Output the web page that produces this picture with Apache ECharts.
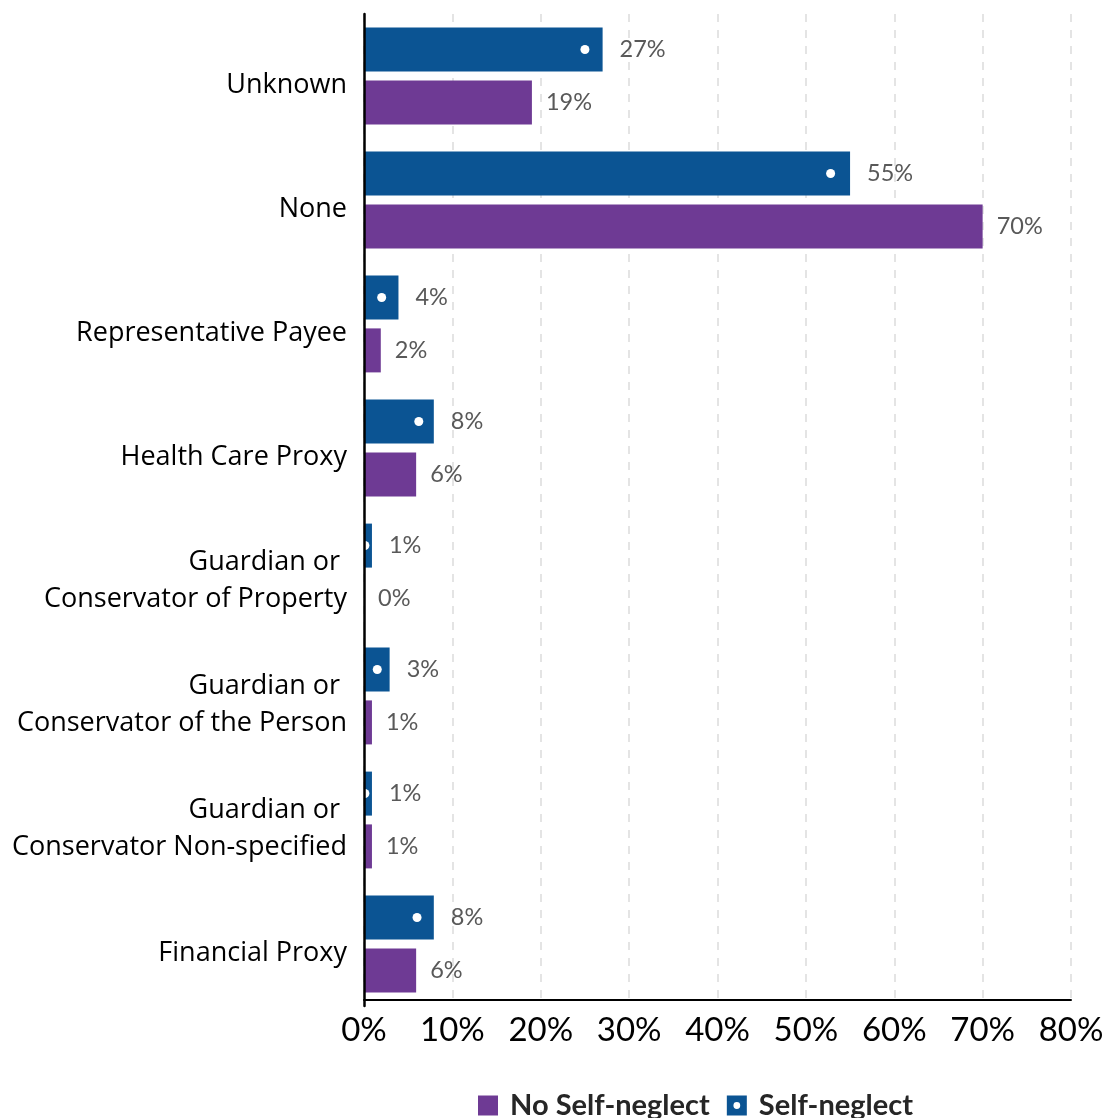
<!DOCTYPE html>
<html>
<head>
<meta charset="utf-8">
<script src="https://cdn.jsdelivr.net/npm/echarts@6/dist/echarts.min.js"></script>
<style>
html,body{margin:0;padding:0;background:#fff;}
#chart{width:1115px;height:1118px;}
</style>
</head>
<body>
<div id="chart"></div>
<script>
// ---- data ----
var categories = [
  'Unknown',
  'None',
  'Representative Payee',
  'Health Care Proxy',
  'Guardian or \nConservator of Property',
  'Guardian or \nConservator of the Person',
  'Guardian or \nConservator Non-specified',
  'Financial Proxy'
];
var selfNeglect   = [27, 55, 3.9, 7.9, 0.9, 2.9, 0.9, 7.9];
var noSelfNeglect = [19, 70, 1.9, 5.9, 0, 0.9, 0.9, 5.9];
var dotValues     = [25, 52.8, 2.0, 6.2, 0.1, 1.5, 0.1, 6.0];
var xTicks = { min: 0, max: 80, interval: 10 };

var BLUE = '#0b5493';
var PURPLE = '#6e3a94';
var FONT = 'Lato';
var CAT_FONT = 'Open Sans';

var chart = echarts.init(document.getElementById('chart'), null, {renderer: 'canvas'});

var pctLabel = function (p) { return Math.round(p.value) + '%'; };
var catLabel = function (v) {
  return '{s| }\n' + v.split('\n').map(function (s) { return '{a|' + s + '}'; }).join('\n');
};

var option = {
  backgroundColor: '#fff',
  animation: false,
  textStyle: { fontFamily: FONT },
  grid: { left: 364, right: 44, top: 14, bottom: 112, containLabel: false },
  legend: {
    top: 1086,
    left: 473,
    itemWidth: 20,
    itemHeight: 20,
    itemGap: 17,
    formatter: function (name) { return ' ' + name; },
    textStyle: { fontFamily: FONT, fontSize: 29, fontWeight: 'bold', color: '#262626' },
    data: [
      { name: 'No Self-neglect', icon: 'rect' },
      { name: 'Self-neglect', icon: 'path://M0,0H10V10H0Z M5,3.3A1.7,1.7 0 1,0 5,6.7A1.7,1.7 0 1,0 5,3.3Z' }
    ]
  },
  xAxis: {
    type: 'value',
    min: xTicks.min,
    max: xTicks.max,
    interval: xTicks.interval,
    offset: -6,
    axisLine: { show: true, lineStyle: { color: '#000', width: 2 } },
    axisTick: { show: false },
    axisLabel: { formatter: '{value}%', fontSize: 33, color: '#000', margin: 14, fontFamily: FONT },
    splitLine: { show: true, lineStyle: { color: '#dcdcdc', type: [8, 8], width: 1.5 } }
  },
  yAxis: {
    type: 'category',
    inverse: true,
    data: categories,
    z: 5,
    axisLine: { show: true, lineStyle: { color: '#000', width: 2.5 } },
    axisTick: { show: false },
    axisLabel: {
      color: '#000', margin: 17, fontFamily: CAT_FONT,
      formatter: catLabel,
      rich: {
        s: { fontSize: 2, lineHeight: 18 },
        a: { fontSize: 27, lineHeight: 37, color: '#000', fontFamily: CAT_FONT, align: 'right' }
      }
    }
  },
  series: [
    {
      name: 'Self-neglect',
      type: 'bar',
      data: selfNeglect,
      barWidth: 44,
      barGap: '20%',
      itemStyle: { color: BLUE },
      label: { show: true, position: 'right', distance: 17, color: '#595959', fontSize: 23.5, formatter: pctLabel, fontFamily: FONT }
    },
    {
      name: 'No Self-neglect',
      type: 'bar',
      data: noSelfNeglect,
      barWidth: 44,
      barGap: '20%',
      itemStyle: { color: PURPLE },
      label: { show: true, position: 'right', distance: 14, color: '#595959', fontSize: 23.5, formatter: pctLabel, fontFamily: FONT }
    },
    {
      name: 'dots',
      type: 'scatter',
      data: dotValues.map(function (v, i) { return [v, i]; }),
      symbol: 'circle',
      symbolSize: 9,
      symbolOffset: [0, -26.5],
      itemStyle: { color: '#fff', opacity: 1 },
      silent: true,
      z: 4
    }
  ]
};
chart.setOption(option);
</script>
</body>
</html>
